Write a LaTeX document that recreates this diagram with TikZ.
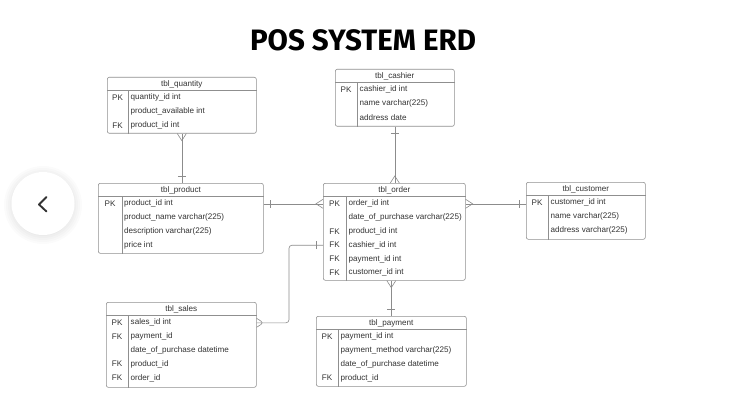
\documentclass[tikz,border=0pt]{standalone}
\usepackage{fontspec}
\setmainfont{Liberation Sans}
\newfontfamily\titlefont{Fira Sans}
\usetikzlibrary{calc,positioning,decorations.markings}
\definecolor{tblgray}{HTML}{8F8F8F}
\definecolor{linegray}{HTML}{8C8C8C}
\definecolor{txtgray}{HTML}{333333}
\tikzset{
  tbl/.style={draw=tblgray, rounded corners=2pt, line width=0.6pt, inner sep=0pt, anchor=north west},
  tblrule/.style={draw=tblgray, line width=0.5pt},
  hdr/.style={font=\fontsize{8.1}{9}\selectfont, text=txtgray, inner sep=0pt},
  keytxt/.style={hdr},
  fld/.style={hdr, anchor=west},
  conn/.style={draw=linegray, line width=0.6pt},
  % ER cardinality marks
  onestart/.style={postaction={decorate, decoration={markings,
    mark=at position 7pt with {\draw[linegray, line width=0.6pt] (0,-4pt) -- (0,4pt);}}}},
  oneend/.style={postaction={decorate, decoration={markings,
    mark=at position -7pt with {\draw[linegray, line width=0.6pt] (0,-4pt) -- (0,4pt);}}}},
  manystart/.style={postaction={decorate, decoration={markings,
    mark=at position 0pt with {\draw[linegray, line width=0.6pt] (0,-4.5pt) -- (7pt,0) -- (0,4.5pt);}}}},
  manyend/.style={postaction={decorate, decoration={markings,
    mark=at position -0.01pt with {\draw[linegray, line width=0.6pt] (0,-4.5pt) -- (-7pt,0) -- (0,4.5pt);}}}}
}

\begin{document}
\begin{tikzpicture}[x=1pt, y=-1pt]
  \useasboundingbox (0,0) rectangle (730,406);
  \fill[white] (0,0) rectangle (730,406);
  \node[font=\titlefont\bfseries\fontsize{29.5}{31}\selectfont, inner sep=0pt] (title) at (363,40) {POS SYSTEM ERD};

  % nav button
  \foreach \r in {39,37,...,31}
    \fill[black, opacity=0.015] (43,205) circle (\r pt);
  \node[circle, fill=white, minimum size=63pt, inner sep=0pt] (navbtn) at (43,203.5) {};
  \draw[txtgray, line width=1.9pt, line cap=round, line join=round]
    ($(navbtn.center)+(3.5,-6.5)$) -- ($(navbtn.center)+(-4,1)$) -- ($(navbtn.center)+(3.5,8)$);

  % tbl_quantity
  \node[tbl, minimum width=149pt, minimum height=56pt] (quantity) at (107,77) {};
  \node[hdr] (quantity-t) at ($(quantity.north)+(0,7)$) {tbl\_quantity};
  \draw[tblrule] ($(quantity.north west)+(0,13.5)$) -- ($(quantity.north east)+(0,13.5)$);
  \draw[tblrule] ($(quantity.north west)+(21,13.5)$) -- ($(quantity.south west)+(21,0)$);
  \foreach \k/\f [count=\i] in {PK/quantity\_id int, /product\_available int, FK/product\_id int} {
    \node[keytxt] (quantity-k\i) at ($(quantity.north west)+(10.5,7+13.8*\i)$) {\k};
    \node[fld] (quantity-\i) at ($(quantity.north west)+(23.5,7+13.8*\i)$) {\f};
  }

  % tbl_product
  \node[tbl, minimum width=165pt, minimum height=70pt] (product) at (98,183) {};
  \node[hdr] (product-t) at ($(product.north)+(0,7)$) {tbl\_product};
  \draw[tblrule] ($(product.north west)+(0,13.5)$) -- ($(product.north east)+(0,13.5)$);
  \draw[tblrule] ($(product.north west)+(24,13.5)$) -- ($(product.south west)+(24,0)$);
  \foreach \k/\f [count=\i] in {PK/product\_id int, /product\_name varchar(225), /description varchar(225), /price int} {
    \node[keytxt] (product-k\i) at ($(product.north west)+(12,7+13.8*\i)$) {\k};
    \node[fld] (product-\i) at ($(product.north west)+(26,7+13.8*\i)$) {\f};
  }

  % tbl_cashier
  \node[tbl, minimum width=119pt, minimum height=57pt] (cashier) at (335,69) {};
  \node[hdr] (cashier-t) at ($(cashier.north)+(0,7)$) {tbl\_cashier};
  \draw[tblrule] ($(cashier.north west)+(0,13.5)$) -- ($(cashier.north east)+(0,13.5)$);
  \draw[tblrule] ($(cashier.north west)+(22,13.5)$) -- ($(cashier.south west)+(22,0)$);
  \foreach \k/\f [count=\i] in {PK/cashier\_id int, /name varchar(225), /address date} {
    \node[keytxt] (cashier-k\i) at ($(cashier.north west)+(11,7+13.8*\i)$) {\k};
    \node[fld] (cashier-\i) at ($(cashier.north west)+(24.5,7+13.8*\i)$) {\f};
  }

  % tbl_order
  \node[tbl, minimum width=142pt, minimum height=97pt] (order) at (323,183) {};
  \node[hdr] (order-t) at ($(order.north)+(0,7)$) {tbl\_order};
  \draw[tblrule] ($(order.north west)+(0,13.5)$) -- ($(order.north east)+(0,13.5)$);
  \draw[tblrule] ($(order.north west)+(23,13.5)$) -- ($(order.south west)+(23,0)$);
  \foreach \k/\f [count=\i] in {PK/order\_id int, /date\_of\_purchase varchar(225), FK/product\_id int,
      FK/cashier\_id int, FK/payment\_id int, FK/customer\_id int} {
    \node[keytxt] (order-k\i) at ($(order.north west)+(11.5,7+13.8*\i)$) {\k};
    \node[fld] (order-\i) at ($(order.north west)+(25.5,7+13.8*\i)$) {\f};
  }

  % tbl_customer
  \node[tbl, minimum width=119pt, minimum height=57pt] (customer) at (526,182) {};
  \node[hdr] (customer-t) at ($(customer.north)+(0,7)$) {tbl\_customer};
  \draw[tblrule] ($(customer.north west)+(0,13.5)$) -- ($(customer.north east)+(0,13.5)$);
  \draw[tblrule] ($(customer.north west)+(22,13.5)$) -- ($(customer.south west)+(22,0)$);
  \foreach \k/\f [count=\i] in {PK/customer\_id int, /name varchar(225), /address varchar(225)} {
    \node[keytxt] (customer-k\i) at ($(customer.north west)+(11,7+13.8*\i)$) {\k};
    \node[fld] (customer-\i) at ($(customer.north west)+(24.5,7+13.8*\i)$) {\f};
  }

  % tbl_sales
  \node[tbl, minimum width=150pt, minimum height=85pt] (sales) at (106,302) {};
  \node[hdr] (sales-t) at ($(sales.north)+(0,7)$) {tbl\_sales};
  \draw[tblrule] ($(sales.north west)+(0,13.5)$) -- ($(sales.north east)+(0,13.5)$);
  \draw[tblrule] ($(sales.north west)+(22,13.5)$) -- ($(sales.south west)+(22,0)$);
  \foreach \k/\f [count=\i] in {PK/sales\_id int, FK/payment\_id, /date\_of\_purchase datetime,
      FK/product\_id, FK/order\_id} {
    \node[keytxt] (sales-k\i) at ($(sales.north west)+(11,7+13.8*\i)$) {\k};
    \node[fld] (sales-\i) at ($(sales.north west)+(24.5,7+13.8*\i)$) {\f};
  }

  % tbl_payment
  \node[tbl, minimum width=150pt, minimum height=70pt] (payment) at (316,316) {};
  \node[hdr] (payment-t) at ($(payment.north)+(0,7)$) {tbl\_payment};
  \draw[tblrule] ($(payment.north west)+(0,13.5)$) -- ($(payment.north east)+(0,13.5)$);
  \draw[tblrule] ($(payment.north west)+(22,13.5)$) -- ($(payment.south west)+(22,0)$);
  \foreach \k/\f [count=\i] in {PK/payment\_id int, /payment\_method varchar(225),
      /date\_of\_purchase datetime, FK/product\_id} {
    \node[keytxt] (payment-k\i) at ($(payment.north west)+(11,7+13.8*\i)$) {\k};
    \node[fld] (payment-\i) at ($(payment.north west)+(24.5,7+13.8*\i)$) {\f};
  }

  % relations
  \draw[conn, manystart, oneend] (quantity.south) -- (quantity.south |- product.north);
  \draw[conn, onestart, manyend] (cashier.south) -- (cashier.south |- order.north);
  \draw[conn, onestart, manyend] (product-1 -| product.east) -- (product-1 -| order.west);
  \draw[conn, manystart, oneend] (order-1 -| order.east) -- (order-1 -| customer.west);
  \coordinate (salesbend) at ($(order-4 -| order.west)+(-34,0)$);
  \draw[conn, manystart, oneend, rounded corners=3pt]
    (sales-1 -| sales.east) -| (salesbend) -- (order-4 -| order.west);
  \draw[conn, manystart, oneend] (payment.north |- order.south) -- (payment.north);
\end{tikzpicture}
\end{document}
